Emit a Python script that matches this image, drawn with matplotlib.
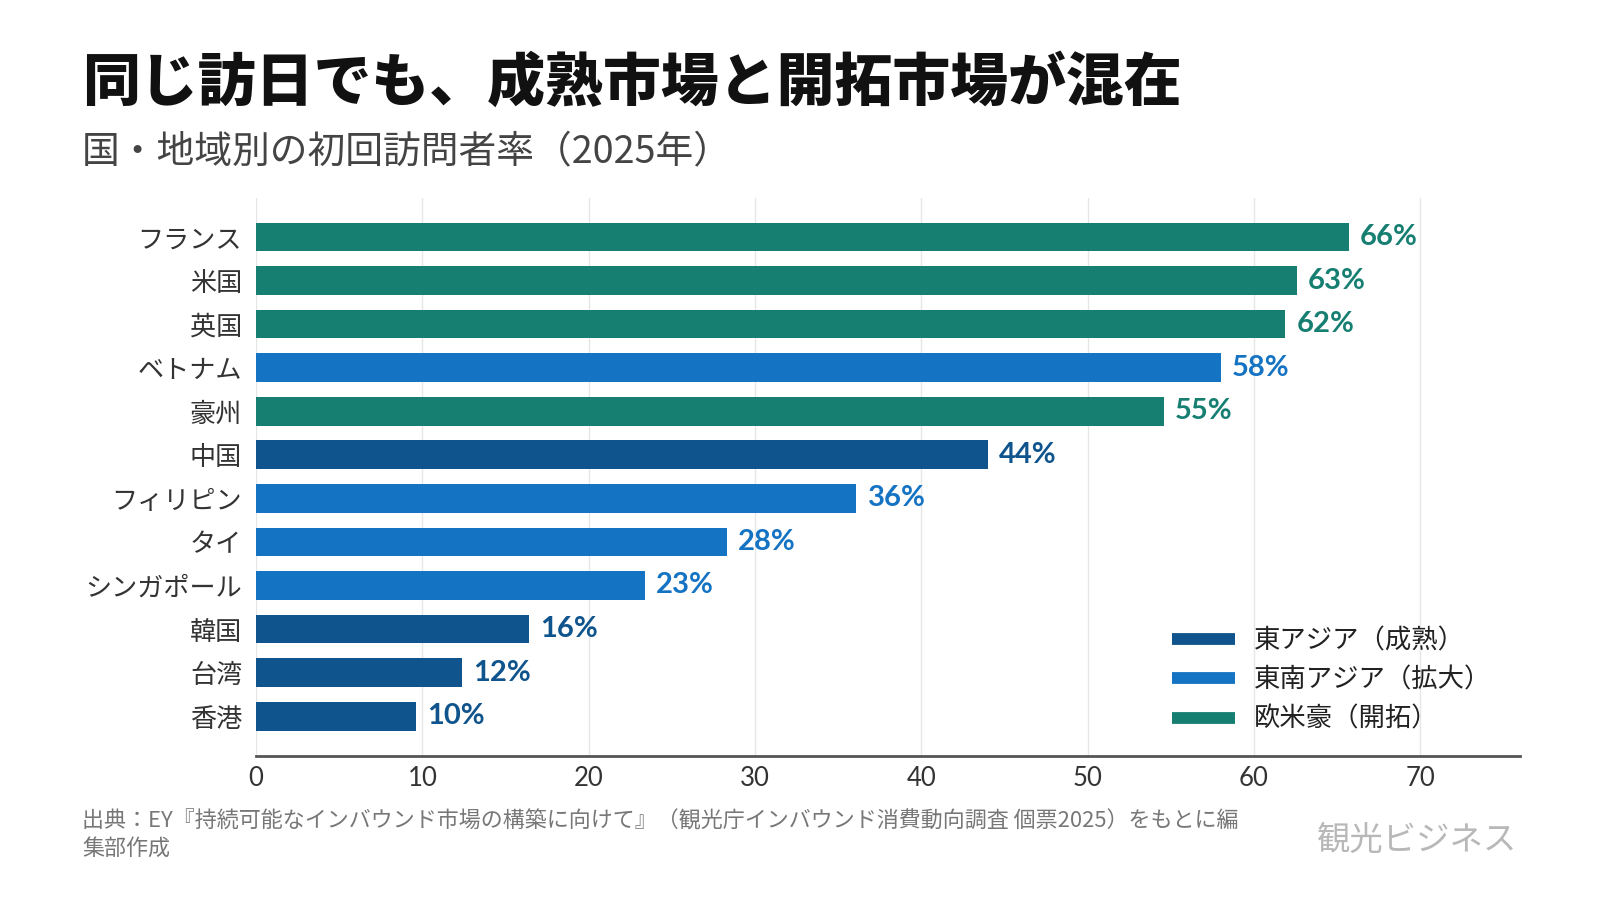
import numpy as np
import matplotlib
matplotlib.use("Agg")
import matplotlib.pyplot as plt
from matplotlib.lines import Line2D

plt.rcParams['font.family'] = ['Noto Sans CJK JP', 'DejaVu Sans']

# data
countries = ["フランス", "米国", "英国", "ベトナム", "豪州", "中国", "フィリピン",
             "タイ", "シンガポール", "韓国", "台湾", "香港"]
rates = [65.7, 62.6, 61.9, 58.0, 54.6, 44.0, 36.1, 28.3, 23.4, 16.4, 12.4, 9.6]
groups = ["west", "west", "west", "sea", "west", "east", "sea",
          "sea", "sea", "east", "east", "east"]

group_names = {"east": "東アジア（成熟）", "sea": "東南アジア（拡大）", "west": "欧米豪（開拓）"}
group_colors = {"east": "#0f548c", "sea": "#1573c3", "west": "#177f72"}

W, H = 1600, 900
fig = plt.figure(figsize=(16, 9), dpi=100)
ax = fig.add_axes([256 / W, 1 - 756 / H, (1520 - 256) / W, (756 - 198) / H])

y = np.arange(len(countries))
cols = [group_colors[g] for g in groups]
ax.barh(y, rates, height=0.66, color=cols, zorder=3)

for yi, v, c in zip(y, rates, cols):
    ax.annotate(f"{round(v)}%", (v, yi), xytext=(8, 0), textcoords="offset points",
                va="center", ha="left", color=c, fontsize=21, fontweight="bold",
                family=["Lato", "DejaVu Sans"])

ax.set_xlim(0, 76)
ax.set_ylim(len(countries) - 0.085, -0.895)
ax.set_yticks(y)
ax.set_yticklabels(countries, fontsize=18.8, color="#333333")
ax.set_xticks(np.arange(0, 71, 10))
ax.set_xticklabels([str(t) for t in range(0, 71, 10)], fontsize=18.5, color="#333333",
                   family=["Lato", "DejaVu Sans"])
ax.tick_params(axis="both", length=0)
ax.tick_params(axis="x", pad=7)
ax.tick_params(axis="y", pad=10)

ax.grid(axis="x", color="#e6e6e6", linewidth=1, zorder=0)
for s in ["top", "right", "left"]:
    ax.spines[s].set_visible(False)
ax.spines["bottom"].set_color("#555555")
ax.spines["bottom"].set_linewidth(2)
ax.spines["bottom"].set_zorder(4)

handles = [Line2D([0], [0], color=group_colors[k], linewidth=8.5, solid_capstyle="butt")
           for k in ["east", "sea", "west"]]
labels = [group_names[k] for k in ["east", "sea", "west"]]
fig.legend(handles, labels, loc="upper left", bbox_to_anchor=(1172 / W, 1 - 627 / H),
           frameon=False, fontsize=19, handlelength=2.4, handletextpad=0.7,
           labelspacing=0.47, borderpad=0, borderaxespad=0, labelcolor="#222222")

fig.text(82 / W, 1 - 83 / H, "同じ訪日でも、成熟市場と開拓市場が混在", fontsize=41.7,
         fontweight="black", color="#111111", va="center", ha="left")
fig.text(82 / W, 1 - 152 / H, "国・地域別の初回訪問者率（2025年）", fontsize=27.2,
         color="#444444", va="center", ha="left")

fig.text(82 / W, 1 - 810 / H,
         "出典：EY『持続可能なインバウンド市場の構築に向けて』（観光庁インバウンド消費動向調査 個票2025）をもとに編\n集部作成",
         fontsize=15.85, color="#777777", va="top", ha="left", linespacing=1.35)
fig.text(1517 / W, 1 - 840 / H, "観光ビジネス", fontsize=24, color="#b8b8b8",
         va="center", ha="right")

fig.savefig("out.png", dpi=100, facecolor="white")
